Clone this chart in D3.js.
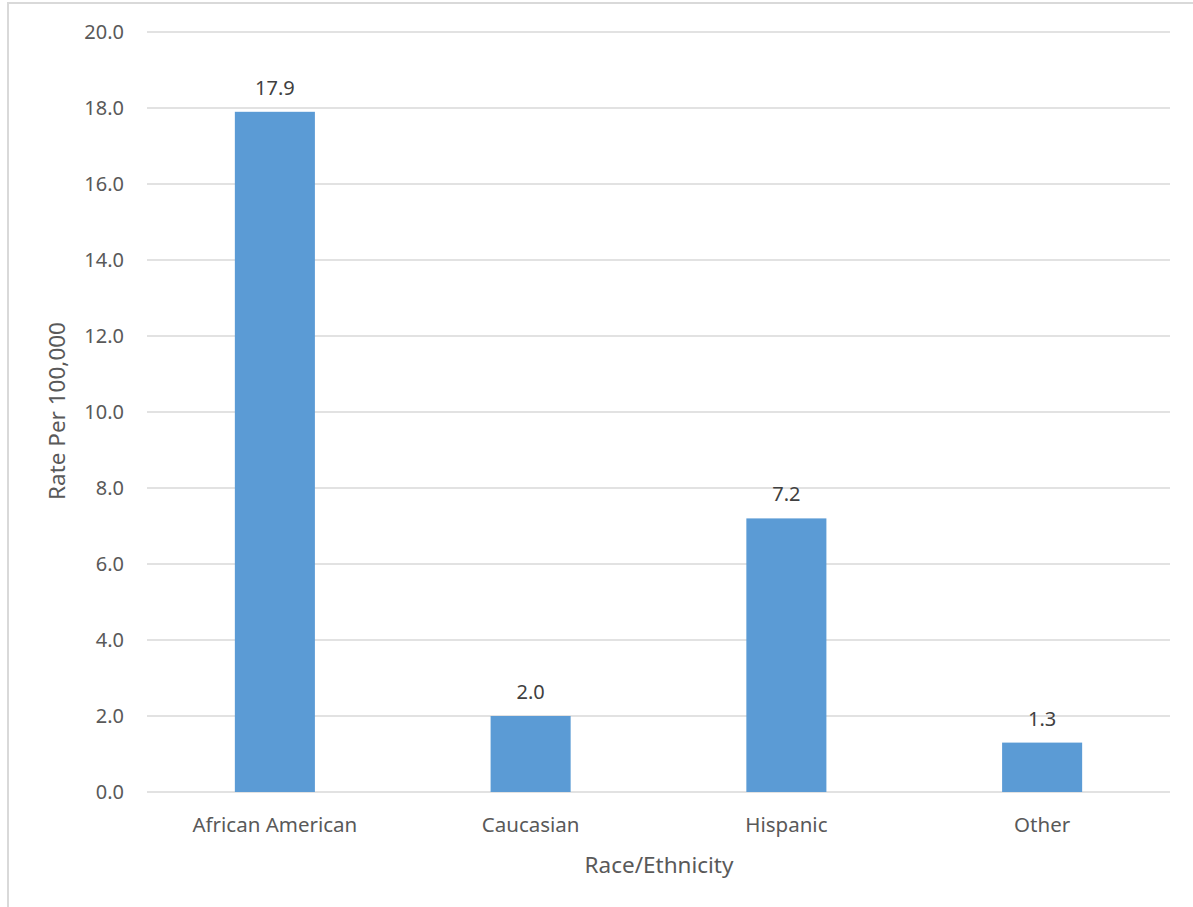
<!DOCTYPE html>
<html>
<head>
<meta charset="utf-8">
<script src="https://cdn.jsdelivr.net/npm/d3@7"></script>
<style>
  html, body { margin: 0; padding: 0; background: #fff; }
  svg { display: block; }
  text { font-family: "Noto Sans", "Open Sans", sans-serif; }
</style>
</head>
<body>
<svg id="chart" width="1193" height="907"></svg>
<script>
const categories = ["African American", "Caucasian", "Hispanic", "Other"];
const values = [17.9, 2.0, 7.2, 1.3];
const yTicks = [0, 2, 4, 6, 8, 10, 12, 14, 16, 18, 20];
const yAxisTitle = "Rate Per 100,000";
const xAxisTitle = "Race/Ethnicity";

const svg = d3.select("#chart");
const W = 1193, H = 907;
const m = { left: 147, right: 1170, top: 32, bottom: 792 };

// outer chart border
svg.append("rect")
  .attr("x", 8).attr("y", 3)
  .attr("width", W + 10).attr("height", H + 10)
  .attr("fill", "none").attr("stroke", "#d9d9d9").attr("stroke-width", 2);

const x = d3.scaleBand().domain(categories).range([m.left, m.right]).paddingInner(0.687).paddingOuter(0.3435);
const y = d3.scaleLinear().domain([0, 20]).range([m.bottom, m.top]);

// gridlines
svg.append("g").selectAll("line").data(yTicks).join("line")
  .attr("x1", m.left).attr("x2", m.right)
  .attr("y1", d => y(d)).attr("y2", d => y(d))
  .attr("stroke", "#d9d9d9").attr("stroke-width", 1.5);

// y axis labels
const yAxis = d3.axisLeft(y).tickValues(yTicks).tickFormat(d3.format(".1f")).tickSize(0).tickPadding(0);
const gy = svg.append("g").attr("transform", `translate(${124},0)`).call(yAxis);
gy.select(".domain").remove();
gy.selectAll("text").attr("fill", "#595959").style("font-size", "20px")
  .style("font-family", '"Noto Sans", sans-serif');

// bars
svg.append("g").selectAll("rect").data(categories).join("rect")
  .attr("x", d => x(d))
  .attr("width", x.bandwidth())
  .attr("y", (d, i) => y(values[i]))
  .attr("height", (d, i) => y(0) - y(values[i]))
  .attr("fill", "#5b9bd5");

// data labels
svg.append("g").selectAll("text").data(categories).join("text")
  .attr("x", d => x(d) + x.bandwidth() / 2)
  .attr("y", (d, i) => y(values[i]) - 17)
  .attr("text-anchor", "middle")
  .attr("fill", "#404040")
  .style("font-size", "20px")
  .text((d, i) => values[i].toFixed(1));

// x axis labels
const xAxis = d3.axisBottom(x).tickSize(0).tickPadding(0);
const gx = svg.append("g").attr("transform", `translate(0,${m.bottom + 25})`).call(xAxis);
gx.select(".domain").remove();
gx.selectAll("text").attr("fill", "#595959").style("font-size", "20.5px")
  .style("font-family", '"Noto Sans", sans-serif');

// axis titles
svg.append("text")
  .attr("x", 659).attr("y", 873)
  .attr("text-anchor", "middle").attr("fill", "#595959")
  .style("font-size", "22.5px").text(xAxisTitle);

svg.append("text")
  .attr("transform", `translate(65,411) rotate(-90)`)
  .attr("text-anchor", "middle").attr("fill", "#595959")
  .style("font-size", "22.5px").text(yAxisTitle);
</script>
</body>
</html>
